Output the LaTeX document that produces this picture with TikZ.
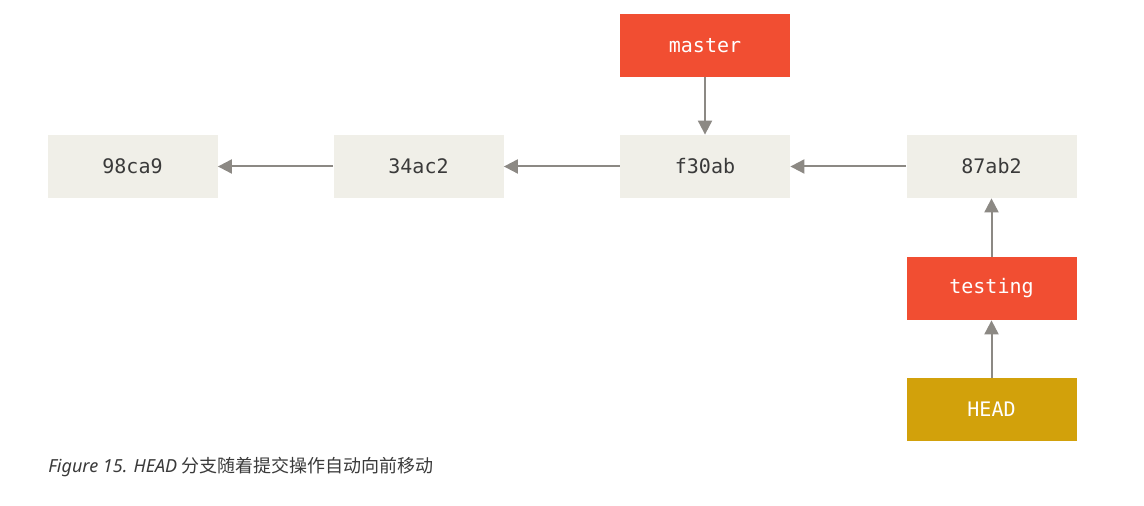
\documentclass[tikz,border=0pt]{standalone}
\usepackage{fontspec}
\setmonofont{DejaVu Sans Mono}
\setsansfont{Noto Sans}
\newfontfamily\cjk{Noto Sans CJK SC}
\usetikzlibrary{arrows.meta}
\definecolor{commitgray}{HTML}{F0EFE8}
\definecolor{branchred}{HTML}{F14E32}
\definecolor{headgold}{HTML}{D2A10B}
\definecolor{linegray}{HTML}{8C8984}
\definecolor{textdark}{HTML}{3A3A3A}
\tikzset{
	box/.style = {minimum width = 85pt, minimum height = 31.5pt, inner sep = 0pt, font = \ttfamily\fontsize{10}{12}\selectfont},
	commit/.style = {box, fill = commitgray, text = textdark},
	branch/.style = {box, fill = branchred, text = white},
	headbox/.style = {box, fill = headgold, text = white},
	link/.style = {draw = linegray, line width = 1pt, -{Triangle[length = 7pt, width = 7pt]}}
}
\begin{document}
\begin{tikzpicture}[x = 0.5pt, y = -0.5pt]

	% Frame
	
	\useasboundingbox (0, 0) rectangle (1144, 506);
	
	% Commits
	
	\node [commit] (c1) at (132.5, 166.5) {98ca9};
	\node [commit] (c2) at (418.5, 166.5) {34ac2};
	\node [commit] (c3) at (705, 166.5) {f30ab};
	\node [commit] (c4) at (991.5, 166.5) {87ab2};
	
	% Branches
	
	\node [branch] (master) at (705, 45.5) {master};
	\node [branch] (testing) at (991.5, 288.5) {testing};
	\node [headbox] (head) at (991.5, 409.5) {HEAD};
	
	% Links
	
	\draw [link] (c2.west) -- (c1.east);
	\draw [link] (c3.west) -- (c2.east);
	\draw [link] (c4.west) -- (c3.east);
	\draw [link] (master.south) -- (c3.north);
	\draw [link] (testing.north) -- (c4.south);
	\draw [link] (head.north) -- (testing.south);
	
	% Caption
	
	\node [anchor = west, inner sep = 0pt, text = textdark, font = \sffamily\itshape\fontsize{9}{11}\selectfont] (caption) at (48, 467) {Figure 15. HEAD {\cjk 分支随着提交操作自动向前移动}};
	
\end{tikzpicture}
\end{document}
